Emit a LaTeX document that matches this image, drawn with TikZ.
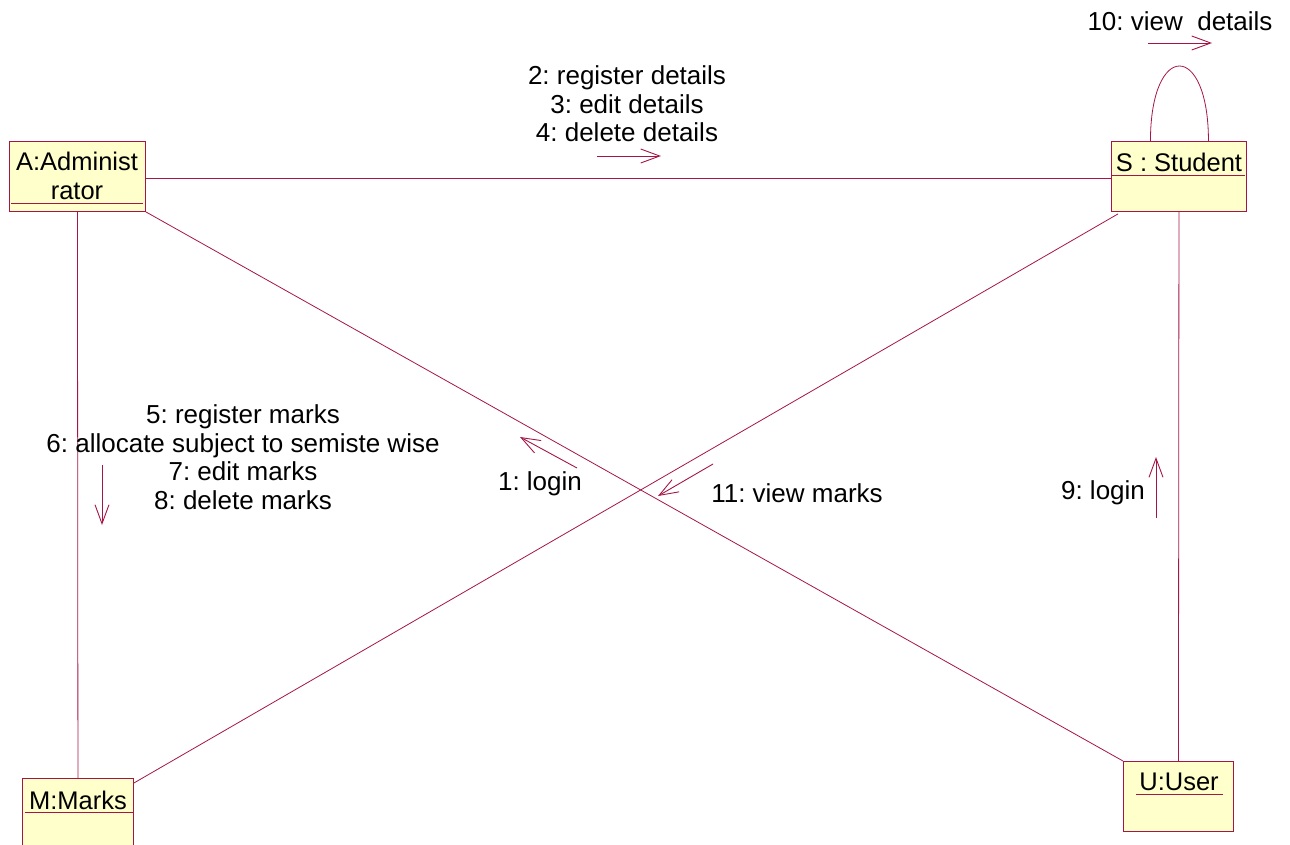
\documentclass[tikz,border=0pt]{standalone}
\usepackage{fontspec}
\setmainfont{Liberation Sans}
\usetikzlibrary{arrows.meta,calc}
\definecolor{umlline}{RGB}{165,22,70}
\definecolor{umlfill}{RGB}{255,255,204}
\frenchspacing
\tikzset{
  objbox/.style={draw=umlline, fill=umlfill, line width=0.9pt, inner sep=0pt, anchor=north west},
  objtext/.style={font=\fontsize{25.5}{29}\selectfont, inner sep=0pt, align=center, text=black},
  msgtext/.style={font=\fontsize{26}{28.5}\selectfont, inner sep=0pt, align=center, text=black},
  link/.style={draw=umlline, line width=0.8pt},
  msg/.style={draw=umlline, line width=0.9pt, -{Straight Barb[length=19pt,width=14pt,line width=0.9pt]}},
}
\begin{document}
\begin{tikzpicture}[x=1pt,y=-1pt]
\useasboundingbox (0,0) rectangle (1290,844);
% objects
\node[objbox, minimum width=136pt, minimum height=70pt] (A) at (9,141) {};
\node[objbox, minimum width=135pt, minimum height=70pt] (S) at (1111,141) {};
\node[objbox, minimum width=111pt, minimum height=80pt] (M) at (22,778) {};
\node[objbox, minimum width=110pt, minimum height=70pt] (U) at (1123,761) {};
\node[objtext] (At) at (77,176) {A:Administ\\rator};
\node[objtext] (St) at (1179,162) {S : Student};
\node[objtext] (Mt) at (78,800) {M:Marks};
\node[objtext] (Ut) at (1179,782) {U:User};
\draw[link] (11,203) -- (143,203);
\draw[link] (1112,175) -- (1245,175);
\draw[link] (25,812) -- (133,812);
\draw[link] (1136,794) -- (1223,794);
% links
\draw[link] (A.east |- 0,178) -- (S.west |- 0,178);
\draw[link] (A.south) -- (M.north);
\draw[link] (A.south east) -- (U.north west);
\draw[link] ($(S.south west)+(7,2)$) -- ($(M.north east)+(0,5)$);
\draw[link] (S.south) -- (U.north);
\draw[link] ($(S.north)+(-28.5,0)$) .. controls ($(S.north)+(-28.5,-100)$) and ($(S.north)+(29.5,-100)$) .. ($(S.north)+(29.5,0)$);
% messages
\coordinate (m1a) at (577,468); \coordinate (m1b) at (520,437);
\coordinate (m2a) at (597,156); \coordinate (m2b) at (661,156);
\coordinate (m5a) at (102,465); \coordinate (m5b) at (102,525);
\coordinate (m9a) at (1156,518); \coordinate (m9b) at (1156,457);
\coordinate (m10a) at (1148,43); \coordinate (m10b) at (1212,43);
\coordinate (m11a) at (713,464); \coordinate (m11b) at (658,496);
\draw[msg] (m1a) -- (m1b);
\draw[msg] (m2a) -- (m2b);
\draw[msg] (m5a) -- (m5b);
\draw[msg] (m9a) -- (m9b);
\draw[msg] (m10a) -- (m10b);
\draw[msg] (m11a) -- (m11b);
\node[msgtext] (t1) at (540,484) {1: login};
\node[msgtext] (t2) at (627,104) {2: register details\\3: edit details\\4: delete details};
\node[msgtext] (t5) at (243,457) {5: register marks\\6: allocate subject to semiste wise\\7: edit marks\\8: delete marks};
\node[msgtext] (t9) at (1103,493) {9: login};
\node[msgtext] (t10) at (1180,21) {10: view~ details};
\node[msgtext] (t11) at (797,493) {11: view marks};
\end{tikzpicture}
\end{document}
